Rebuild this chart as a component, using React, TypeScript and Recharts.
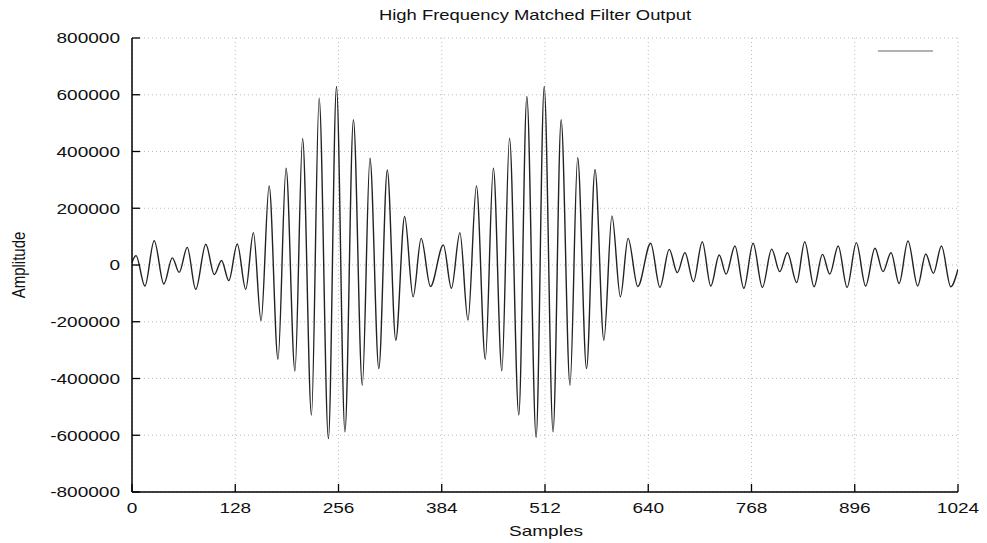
import React from 'react';
import { LineChart, Line, XAxis, YAxis, CartesianGrid, Legend } from 'recharts';

const samples = [
  0, 5, 16, 27.5, 39.5, 50, 58.5, 68.5, 79, 91.5,
  102, 111, 120, 130.5, 141, 150.5, 160, 170, 181, 191,
  202, 211.5, 222.5, 232, 243.5, 253.5, 264, 274.5, 285.5, 295,
  306, 316.5, 327, 338, 348.5, 358.5, 370, 386, 396, 406.5,
  416.5, 427, 438, 448, 458.5, 468, 479.5, 489.5, 501, 511,
  522, 532, 543, 552.5, 563.5, 574, 585, 595, 605.5, 615,
  627, 643, 654.5, 666, 676, 685.5, 696, 707, 717.5, 728,
  736.5, 747.5, 758.5, 770, 781.5, 793, 803, 812.5, 824, 834,
  845.5, 856, 865, 875.5, 886.5, 898, 909.5, 921, 931, 941,
  951, 962, 974, 984, 993.5, 1003.5, 1015, 1024,
];

const amplitudes = [
  10000, 33000, -74000, 86000, -67000, 25000, -26000, 62000, -86000, 73000,
  -34000, 16000, -55000, 74000, -86000, 114000, -196000, 279000, -332000, 341000,
  -374000, 446000, -529000, 588000, -612000, 629000, -588000, 512000, -424000, 376000,
  -365000, 335000, -265000, 171000, -112000, 94000, -76000, 71000, -82000, 114000,
  -194000, 279000, -332000, 341000, -373000, 447000, -529000, 594000, -608000, 629000,
  -588000, 512000, -424000, 378000, -365000, 337000, -265000, 173000, -112000, 94000,
  -76000, 76500, -79000, 55000, -27000, 43500, -59000, 82000, -74000, 35000,
  -32000, 67000, -82000, 76500, -79000, 56000, -23500, 43500, -62000, 82000,
  -76500, 37500, -32000, 67000, -79000, 79000, -74000, 59000, -23500, 43500,
  -65000, 85000, -74000, 39000, -29500, 67000, -76500, -15000,
];

const xTicks = [0, 128, 256, 384, 512, 640, 768, 896, 1024];
const yTicks = [-800000, -600000, -400000, -200000, 0, 200000, 400000, 600000, 800000];

const titleText = 'High Frequency Matched Filter Output';
const xLabelText = 'Samples';
const yLabelText = 'Amplitude';

const data = samples.map((s, i) => ({ sample: s, value: amplitudes[i] }));

const FONT = '"Liberation Sans", Arial, Helvetica, sans-serif';
const STRETCH = 1.27;
const TICK = 8;
const LEFT_MARGIN = 12;
const BOTTOM_MARGIN = 10;

const LeftTick = (props: any) => {
  const { x, y, payload } = props;
  const ax = x + LEFT_MARGIN;
  return (
    <g>
      <line x1={ax} y1={y} x2={ax + TICK} y2={y} stroke="#000" strokeWidth={1.3} />
      <text
        transform={`translate(${x},${y}) scale(${STRETCH},1)`}
        textAnchor="end"
        dy="0.36em"
        fontSize={15}
        fontFamily={FONT}
        fill="#111"
      >
        {payload.value}
      </text>
    </g>
  );
};

const BottomTick = (props: any) => {
  const { x, y, payload } = props;
  const ay = y - BOTTOM_MARGIN;
  return (
    <g>
      <line x1={x} y1={ay} x2={x} y2={ay - TICK} stroke="#000" strokeWidth={1.3} />
      <text
        transform={`translate(${x},${y}) scale(${STRETCH},1)`}
        textAnchor="middle"
        dy="0.71em"
        fontSize={15}
        fontFamily={FONT}
        fill="#111"
      >
        {payload.value}
      </text>
    </g>
  );
};

const TopTick = (props: any) => {
  const { x, y } = props;
  return <line x1={x} y1={y} x2={x} y2={y + TICK} stroke="#000" strokeWidth={1.3} />;
};

const RightTick = (props: any) => {
  const { x, y } = props;
  return <line x1={x} y1={y} x2={x - TICK} y2={y} stroke="#000" strokeWidth={1.3} />;
};

const LegendLine = () => (
  <svg width={58} height={4} style={{ display: 'block' }}>
    <line x1={1} y1={2} x2={56} y2={2} stroke="#666" strokeWidth={1} />
  </svg>
);

const textBase: React.CSSProperties = {
  position: 'absolute',
  fontFamily: FONT,
  color: '#111',
  whiteSpace: 'nowrap',
  lineHeight: 1,
};

export default function App() {
  const axisLine = { stroke: '#000', strokeWidth: 1.5 };
  return (
    <div style={{ position: 'relative', width: 979, height: 535, background: '#fff' }}>
      <LineChart
        width={979}
        height={535}
        data={data}
        margin={{ top: 30, right: 29, bottom: 21, left: 0 }}
      >
        <CartesianGrid stroke="#bdbdbd" strokeDasharray="1 3" strokeWidth={1} />
        <XAxis
          dataKey="sample"
          type="number"
          domain={[0, 1024]}
          ticks={xTicks}
          interval={0}
          allowDataOverflow
          height={30}
          tickSize={0}
          tickMargin={BOTTOM_MARGIN}
          tick={<BottomTick />}
          axisLine={axisLine}
        />
        <XAxis
          xAxisId="top"
          orientation="top"
          dataKey="sample"
          type="number"
          domain={[0, 1024]}
          ticks={xTicks}
          interval={0}
          allowDataOverflow
          height={0}
          tickSize={0}
          tickMargin={0}
          tick={<TopTick />}
          axisLine={axisLine}
        />
        <YAxis
          type="number"
          domain={[-800000, 800000]}
          ticks={yTicks}
          interval={0}
          allowDataOverflow
          width={124}
          tickSize={0}
          tickMargin={LEFT_MARGIN}
          tick={<LeftTick />}
          axisLine={axisLine}
        />
        <YAxis
          yAxisId="right"
          orientation="right"
          type="number"
          domain={[-800000, 800000]}
          ticks={yTicks}
          interval={0}
          allowDataOverflow
          width={0}
          tickSize={0}
          tickMargin={0}
          tick={<RightTick />}
          axisLine={axisLine}
        />
        <Legend
          layout="vertical"
          verticalAlign="middle"
          align="center"
          content={() => <LegendLine />}
          wrapperStyle={{ left: 869, top: 41, width: 58, height: 4, right: 'auto', bottom: 'auto' }}
        />
        <Line
          type="monotone"
          dataKey="value"
          stroke="#222"
          strokeWidth={1.4}
          dot={false}
          activeDot={false}
          isAnimationActive={false}
        />
      </LineChart>
      <div
        style={{
          ...textBase,
          left: 527,
          top: 7,
          fontSize: 14.5,
          transform: `translate(-50%, -50%) scaleX(${STRETCH})`,
        }}
      >
        {titleText}
      </div>
      <div
        style={{
          ...textBase,
          left: 538,
          top: 522,
          fontSize: 15,
          transform: `translate(-50%, -50%) scaleX(${STRETCH})`,
        }}
      >
        {xLabelText}
      </div>
      <div
        style={{
          ...textBase,
          left: 10,
          top: 257,
          fontSize: 15,
          transform: `translate(-50%, -50%) rotate(-90deg) scaleX(1) scaleY(${STRETCH})`,
        }}
      >
        {yLabelText}
      </div>
    </div>
  );
}
